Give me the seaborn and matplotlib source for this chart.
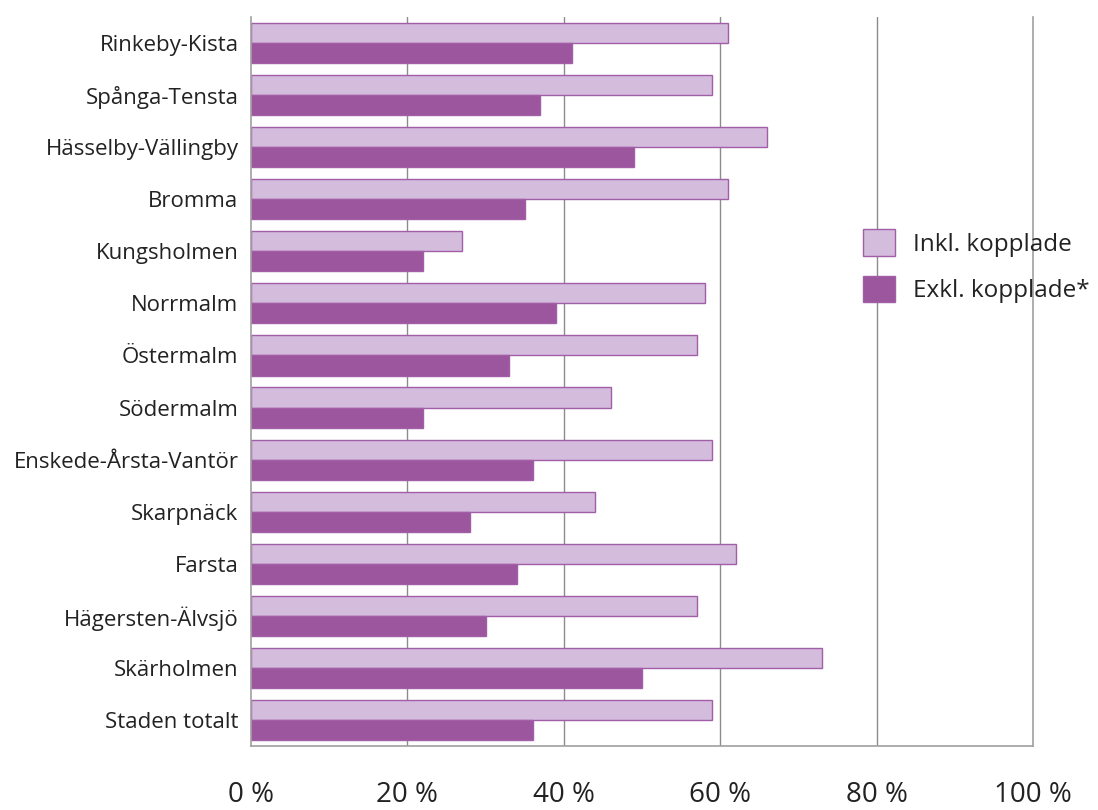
import pandas as pd
import matplotlib.pyplot as plt
import seaborn as sns

# Districts (top to bottom) and shares in percent
districts = ["Rinkeby-Kista", "Spånga-Tensta", "Hässelby-Vällingby", "Bromma",
             "Kungsholmen", "Norrmalm", "Östermalm", "Södermalm",
             "Enskede-Årsta-Vantör", "Skarpnäck", "Farsta", "Hägersten-Älvsjö",
             "Skärholmen", "Staden totalt"]
inkl = [61, 59, 66, 61, 27, 58, 57, 46, 59, 44, 62, 57, 73, 59]
exkl = [41, 37, 49, 35, 22, 39, 33, 22, 36, 28, 34, 30, 50, 36]
series = ["Inkl. kopplade", "Exkl. kopplade*"]
xticks = [0, 20, 40, 60, 80, 100]

df = pd.DataFrame({
    "district": districts * 2,
    "value": inkl + exkl,
    "serie": [series[0]] * len(districts) + [series[1]] * len(districts),
})

sns.set_style("white")
plt.rcParams["font.family"] = ["Open Sans", "DejaVu Sans"]

fig = plt.figure(figsize=(10.98, 8.10), dpi=100)
ax = fig.add_axes([0.2286, 0.079, 0.7122, 0.900])

palette = {series[0]: "#d3bcdc", series[1]: "#9b569e"}
sns.barplot(data=df, x="value", y="district", hue="serie", order=districts,
            hue_order=series, palette=palette, orient="h", width=0.77,
            saturation=1, edgecolor="#a25fa8", linewidth=1, ax=ax)

ax.set_xlim(0, 100)
ax.set_xticks(xticks)
ax.set_xticklabels([f"{t} %" for t in xticks], fontsize=20, color="#222222")
ax.tick_params(axis="x", length=0, pad=25)
ax.tick_params(axis="y", length=0, pad=9, labelsize=16, labelcolor="#222222")
ax.set_xlabel("")
ax.set_ylabel("")

for t in xticks[1:-1]:
    ax.axvline(t, color="#8c8c8c", linewidth=1, zorder=0)
ax.set_axisbelow(True)

for side in ["left", "bottom", "right"]:
    ax.spines[side].set_color("#a0a0a0")
    ax.spines[side].set_linewidth(1.2)
ax.spines["top"].set_visible(False)

ax.legend(loc="upper left", bbox_to_anchor=(0.755, 0.739), frameon=False,
          fontsize=17.5, handlelength=1.3, handleheight=1.3, labelspacing=0.8,
          handletextpad=0.75, labelcolor="#222222")

fig.savefig("out.png", dpi=100)
